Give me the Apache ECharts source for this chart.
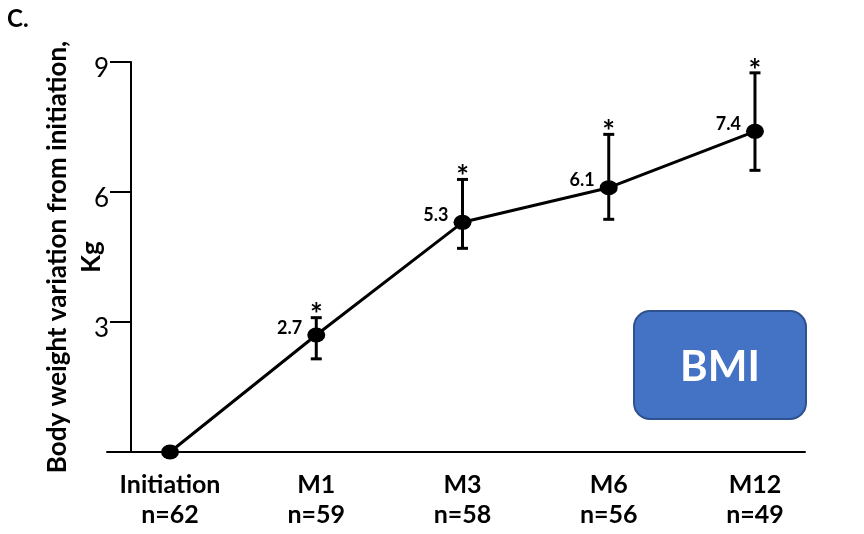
<!DOCTYPE html>
<html>
<head>
<meta charset="utf-8">
<script src="https://cdn.jsdelivr.net/npm/echarts@6/dist/echarts.min.js"></script>
<style>
  html, body { margin: 0; padding: 0; background: #fff; }
  #chart { width: 864px; height: 534px; }
</style>
</head>
<body>
<div id="chart"></div>
<script>
// Visits and cohort sizes
const categories = ['Initiation', 'M1', 'M3', 'M6', 'M12'];
const sampleSizes = ['n=62', 'n=59', 'n=58', 'n=56', 'n=49'];
// Mean body-weight change from initiation (kg)
const meanChange = [0, 2.7, 5.3, 6.1, 7.4];
// Error bar limits (kg)
const lowerBound = [null, 2.15, 4.7, 5.37, 6.5];
const upperBound = [null, 3.1, 6.29, 7.33, 8.75];
// Significant change versus initiation
const significant = [false, true, true, true, true];
// Y axis ticks
const yTicks = [0, 3, 6, 9];
// Y axis title, one entry per line
const yTitleLines = ['Body weight variation from initiation,', 'Kg'];

const FONT = 'Lato, "Open Sans", sans-serif';

const chart = echarts.init(document.getElementById('chart'), null, { renderer: 'canvas' });

const pointData = meanChange.map((v, i) => [i, v]);
const errorData = categories
  .map((c, i) => [i, lowerBound[i], upperBound[i], significant[i] ? 1 : 0])
  .filter(d => d[1] !== null);

const nameStyle = {
  fontFamily: FONT,
  fontWeight: 'bold',
  fontSize: 26,
  align: 'center',
  color: '#000'
};

chart.setOption({
  animation: false,
  backgroundColor: '#fff',
  title: {
    text: 'C.',
    left: 2,
    top: 2,
    textStyle: { fontFamily: FONT, fontWeight: 'bold', fontSize: 24, color: '#000' }
  },
  grid: { left: 107, right: 59, top: 62, bottom: 82, outerBoundsMode: 'none' },
  xAxis: {
    type: 'value',
    min: -0.431,
    max: 4.342,
    axisLine: { show: true, onZero: false, lineStyle: { color: '#000', width: 2 } },
    axisTick: { show: false },
    splitLine: { show: false },
    axisLabel: {
      customValues: categories.map((c, i) => i),
      margin: 18,
      formatter: v => categories[v] + '\n' + sampleSizes[v],
      fontFamily: FONT,
      fontWeight: 'bold',
      fontSize: 25,
      lineHeight: 30,
      color: '#000',
      align: 'center'
    }
  },
  yAxis: [
    {
      type: 'value',
      min: yTicks[0],
      max: yTicks[yTicks.length - 1],
      interval: 3,
      offset: -24,
      axisLine: { show: true, onZero: false, lineStyle: { color: '#000', width: 2 } },
      axisTick: { show: true, length: 21, lineStyle: { color: '#000', width: 2 } },
      splitLine: { show: false },
      axisLabel: {
        margin: 22,
        verticalAlign: 'top',
        lineHeight: 14,
        formatter: v => (v === 0 ? '' : String(v)),
        fontFamily: FONT,
        fontSize: 26,
        color: '#000'
      },
      name: yTitleLines[0],
      nameLocation: 'middle',
      nameRotate: 90,
      nameGap: 60,
      nameMoveOverlap: false,
      nameTextStyle: nameStyle
    },
    {
      // second title line, sharing the same scale
      type: 'value',
      position: 'left',
      min: yTicks[0],
      max: yTicks[yTicks.length - 1],
      interval: 3,
      offset: -24,
      axisLine: { show: false, onZero: false },
      axisTick: { show: false },
      axisLabel: { show: false },
      splitLine: { show: false },
      name: yTitleLines[1],
      nameLocation: 'middle',
      nameRotate: 90,
      nameGap: 26,
      nameMoveOverlap: false,
      nameTextStyle: nameStyle
    }
  ],
  series: [
    {
      type: 'custom',
      z: 1,
      data: errorData,
      renderItem: function (params, api) {
        const x = api.value(0);
        const lo = api.coord([x, api.value(1)]);
        const hi = api.coord([x, api.value(2)]);
        const half = 5.5;
        const style = { stroke: '#000', lineWidth: 3 };
        const children = [
          { type: 'line', shape: { x1: lo[0], y1: lo[1], x2: hi[0], y2: hi[1] }, style: style },
          { type: 'line', shape: { x1: lo[0] - half, y1: lo[1], x2: lo[0] + half, y2: lo[1] }, style: style },
          { type: 'line', shape: { x1: hi[0] - half, y1: hi[1], x2: hi[0] + half, y2: hi[1] }, style: style }
        ];
        if (api.value(3)) {
          children.push({
            type: 'text',
            x: hi[0],
            y: hi[1] + 13,
            style: {
              text: '*',
              fill: '#000',
              font: 'bold 30px ' + FONT,
              align: 'center',
              verticalAlign: 'bottom'
            }
          });
        }
        return { type: 'group', children: children };
      }
    },
    {
      type: 'line',
      z: 3,
      data: pointData,
      symbol: 'circle',
      symbolSize: [18, 15],
      lineStyle: { color: '#000', width: 3 },
      itemStyle: { color: '#000' },
      label: {
        show: true,
        position: 'left',
        distance: 5,
        offset: [0, -7],
        formatter: p => (p.value[1] === 0 ? '' : p.value[1].toFixed(1)),
        fontFamily: FONT,
        fontWeight: 'bold',
        fontSize: 18,
        color: '#000'
      }
    }
  ],
  graphic: [
    {
      type: 'group',
      left: 633,
      top: 310,
      children: [
        {
          type: 'rect',
          shape: { x: 0, y: 0, width: 172, height: 108, r: 16 },
          style: { fill: '#4472C4', stroke: '#2F528F', lineWidth: 2 }
        },
        {
          type: 'text',
          x: 86,
          y: 56,
          style: {
            text: 'BMI',
            fill: '#fff',
            font: 'bold 42px ' + FONT,
            align: 'center',
            verticalAlign: 'middle'
          }
        }
      ]
    }
  ]
});
</script>
</body>
</html>
